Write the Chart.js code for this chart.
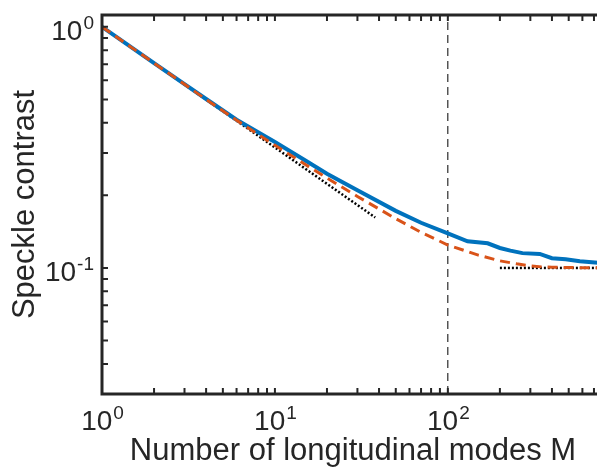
<!DOCTYPE html>
<html>
<head>
<meta charset="utf-8">
<script src="https://cdn.jsdelivr.net/npm/chart.js@4.4.0/dist/chart.umd.min.js"></script>
<style>
  html, body { margin: 0; padding: 0; background: #fff; overflow: hidden; }
  #wrap { position: relative; width: 608px; height: 470px; }
</style>
</head>
<body>
<div id="wrap"><canvas id="graficoSpeckle"></canvas></div>
<script>
// simulacion (azul)
const modosSim = [1, 2, 3, 4, 6, 10, 15, 20, 30, 50, 70, 100, 130, 170, 200, 230, 270, 340, 400, 480, 580, 800];
const contrasteSim = [1.0, 0.708, 0.579, 0.502, 0.412, 0.333, 0.279, 0.246, 0.21, 0.1725, 0.154, 0.139, 0.129, 0.1265, 0.121, 0.118, 0.1152, 0.1143, 0.1097, 0.1087, 0.1066, 0.1045];

// modelo (naranja, discontinua)
const modosModelo = [1, 2, 3, 4, 6, 10, 15, 20, 30, 50, 70, 100, 150, 200, 250, 300, 350, 400, 500, 600, 800];
const contrasteModelo = [1.0, 0.707, 0.578, 0.5, 0.41, 0.3226, 0.2685, 0.236, 0.198, 0.16, 0.1405, 0.1245, 0.113, 0.107, 0.104, 0.102, 0.101, 0.1007, 0.1004, 0.1002, 0.1001];

// asintotas (punteadas)
const asintotaM = [1, 38];
const asintotaC = [1.0, 0.162];
const pisoM = [200, 800];
const pisoC = [0.1, 0.1];

// linea vertical M = 100
const corteM = [100, 100];
const corteC = [0.03, 1.12];

// ticks
const xMayores = [1, 10, 100];
const xExponentes = ["0", "1", "2"];
const yMayores = [0.1, 1];
const yExponentes = ["-1", "0"];

const aPuntos = (xs, ys) => xs.map((m, i) => ({ x: m, y: ys[i] }));

const fuente = '"Liberation Sans", Arial, Helvetica, sans-serif';
const gris = "#262626";

function potencia(ctx, exp, x, yBase, alinear) {
  ctx.font = "28px " + fuente;
  const wb = ctx.measureText("10").width;
  ctx.font = "19px " + fuente;
  const we = ctx.measureText(exp).width;
  const x0 = alinear === "center" ? x - (wb + we) / 2 : x - wb - we;
  ctx.textAlign = "left";
  ctx.textBaseline = "alphabetic";
  ctx.font = "28px " + fuente;
  ctx.fillText("10", x0, yBase);
  ctx.font = "19px " + fuente;
  ctx.fillText(exp, x0 + wb + 1, yBase - 11);
}

const ejes = {
  id: "ejes",
  afterDatasetsDraw(chart) {
    const { ctx, chartArea: a, scales } = chart;
    const sx = scales.x, sy = scales.y;
    ctx.save();
    ctx.strokeStyle = gris;
    ctx.fillStyle = gris;
    ctx.lineWidth = 2;
    ctx.beginPath();
    // ticks x (hacia adentro)
    for (let d = 1; d <= 100; d *= 10) {
      for (let k = 1; k <= 9; k++) {
        const v = d * k;
        if (v < sx.min || v > sx.max) continue;
        const px = sx.getPixelForValue(v);
        ctx.moveTo(px, a.bottom); ctx.lineTo(px, a.bottom - 6);
        ctx.moveTo(px, a.top); ctx.lineTo(px, a.top + 6);
      }
    }
    // ticks y
    for (let d = 0.01; d <= 1; d *= 10) {
      for (let k = 1; k <= 9; k++) {
        const v = d * k;
        if (v < sy.min * 0.999 || v > sy.max) continue;
        const py = sy.getPixelForValue(v);
        ctx.moveTo(a.left, py); ctx.lineTo(a.left + 6, py);
        ctx.moveTo(a.right, py); ctx.lineTo(a.right - 6, py);
      }
    }
    ctx.stroke();

    ctx.lineWidth = 3;
    ctx.strokeRect(a.left, a.top, a.right - a.left, a.bottom - a.top);

    // etiquetas
    xMayores.forEach((v, i) => potencia(ctx, xExponentes[i], sx.getPixelForValue(v), 430, "center"));
    yMayores.forEach((v, i) => potencia(ctx, yExponentes[i], 93, sy.getPixelForValue(v) + 13.5, "right"));

    // titulos
    ctx.font = "31px " + fuente;
    ctx.textAlign = "center";
    ctx.textBaseline = "alphabetic";
    ctx.fillText("Number of longitudinal modes M", (a.left + a.right) / 2, 460);
    ctx.save();
    ctx.translate(34, (a.top + a.bottom) / 2);
    ctx.rotate(-Math.PI / 2);
    ctx.fillText("Speckle contrast", 0, 0);
    ctx.restore();
    ctx.restore();
  },
};

const simulacion = {
  data: aPuntos(modosSim, contrasteSim),
  borderColor: "#0072BD",
  borderWidth: 4,
  order: 2,
};

const modelo = {
  data: aPuntos(modosModelo, contrasteModelo),
  borderColor: "#D95319",
  borderWidth: 3,
  borderDash: [10, 6],
  order: 1,
};

const asintota = {
  data: aPuntos(asintotaM, asintotaC),
  borderColor: "#000000",
  borderWidth: 2.5,
  borderDash: [2, 2],
  order: 3,
};

const piso = {
  data: aPuntos(pisoM, pisoC),
  borderColor: "#000000",
  borderWidth: 2.5,
  borderDash: [2, 2],
  order: 3,
};

const corte = {
  data: aPuntos(corteM, corteC),
  borderColor: "#000000",
  borderWidth: 1,
  borderDash: [8, 5],
  order: 4,
};

new Chart(document.getElementById("graficoSpeckle"), {
  type: "line",
  data: { datasets: [simulacion, modelo, asintota, piso, corte] },
  options: {
    responsive: true,
    maintainAspectRatio: false,
    animation: false,
    layout: { padding: { left: 102, top: 15, right: 4, bottom: 76 } },
    elements: { point: { radius: 0 }, line: { tension: 0, fill: false } },
    plugins: { legend: { display: false }, tooltip: { enabled: false } },
    scales: {
      x: { type: "logarithmic", min: 1, max: 800, display: false },
      y: { type: "logarithmic", min: 0.03, max: 1.12, display: false },
    },
  },
  plugins: [ejes],
});
</script>
</body>
</html>
